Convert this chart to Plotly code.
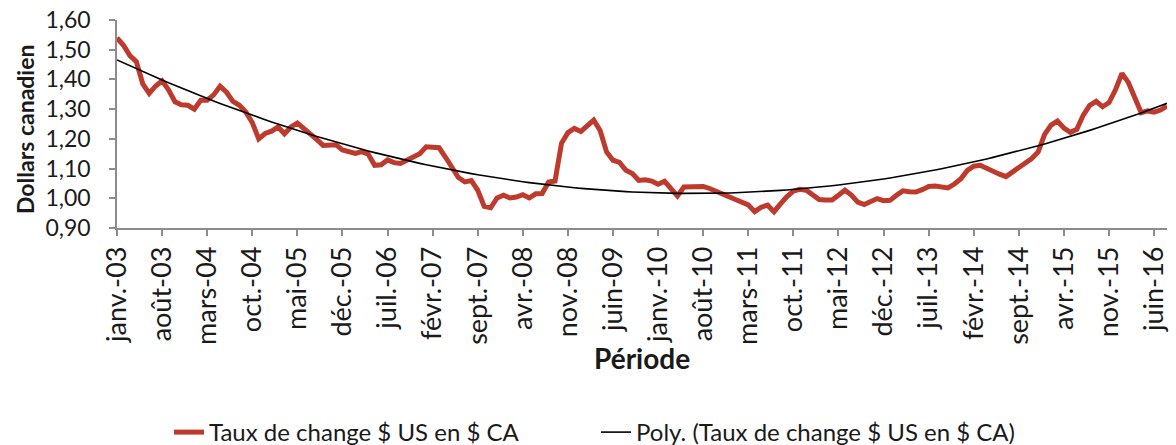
import numpy as np
import plotly.graph_objects as go

# Monthly USD->CAD exchange rate, janv. 2003 .. août 2016
rates_2003 = [1.540, 1.515, 1.480, 1.460, 1.385, 1.353, 1.378, 1.395, 1.365, 1.325, 1.315, 1.313]
rates_2004 = [1.300, 1.330, 1.330, 1.348, 1.377, 1.357, 1.326, 1.313, 1.290, 1.255, 1.200, 1.218]
rates_2005 = [1.226, 1.240, 1.217, 1.240, 1.253, 1.236, 1.220, 1.198, 1.178, 1.178, 1.180, 1.163]
rates_2006 = [1.156, 1.151, 1.157, 1.148, 1.111, 1.113, 1.129, 1.120, 1.117, 1.127, 1.136, 1.150]
rates_2007 = [1.173, 1.172, 1.170, 1.138, 1.100, 1.070, 1.055, 1.060, 1.027, 0.973, 0.968, 1.001]
rates_2008 = [1.010, 1.001, 1.004, 1.012, 1.001, 1.015, 1.016, 1.055, 1.058, 1.185, 1.221, 1.235]
rates_2009 = [1.225, 1.242, 1.263, 1.228, 1.156, 1.128, 1.121, 1.094, 1.083, 1.060, 1.062, 1.058]
rates_2010 = [1.047, 1.057, 1.030, 1.008, 1.038, 1.040, 1.041, 1.040, 1.033, 1.025, 1.013, 1.005]
rates_2011 = [0.996, 0.988, 0.978, 0.955, 0.970, 0.977, 0.955, 0.981, 1.006, 1.024, 1.030, 1.027]
rates_2012 = [1.011, 0.996, 0.994, 0.994, 1.010, 1.027, 1.011, 0.987, 0.979, 0.990, 0.999, 0.992]
rates_2013 = [0.993, 1.010, 1.025, 1.022, 1.021, 1.029, 1.040, 1.041, 1.037, 1.035, 1.048, 1.066]
rates_2014 = [1.094, 1.108, 1.111, 1.100, 1.090, 1.081, 1.073, 1.089, 1.100, 1.118, 1.134, 1.156]
rates_2015 = [1.215, 1.246, 1.260, 1.236, 1.222, 1.232, 1.280, 1.313, 1.326, 1.308, 1.322, 1.365]
rates_2016 = [1.420, 1.390, 1.336, 1.288, 1.294, 1.290, 1.297, 1.310]

month_names = ["janv.", "févr.", "mars", "avr.", "mai", "juin",
               "juil.", "août", "sept.", "oct.", "nov.", "déc."]
start_year = 2003
tick_step = 7  # one label every 7 months
y_ticks = [0.90, 1.00, 1.10, 1.20, 1.30, 1.40, 1.50, 1.60]

series_name = "Taux de change $ US en $ CA"
trend_name = "Poly. (Taux de change $ US en $ CA)"
y_title = "Dollars canadien"
x_title = "Période"

rates = (rates_2003 + rates_2004 + rates_2005 + rates_2006 + rates_2007 +
         rates_2008 + rates_2009 + rates_2010 + rates_2011 + rates_2012 +
         rates_2013 + rates_2014 + rates_2015 + rates_2016)
idx = np.arange(len(rates))
labels = [f"{month_names[i % 12]}-{(start_year + i // 12) % 100:02d}" for i in idx]
tickvals = list(idx[::tick_step])
ticktext = [labels[i] for i in tickvals]

# Excel-style polynomial (order 2) trendline
coef = np.polyfit(idx, rates, 2)
trend = np.polyval(coef, idx)

FONT = "Lato"
TXT = "#1a1a1a"
AX = "#8c8c8c"

W, H = 1176, 445
ML, MT, MR = 117, 20, 9
PLOT_H = 208
MB = H - MT - PLOT_H

fig = go.Figure()
fig.add_trace(go.Scatter(x=idx, y=rates, mode="lines", name=series_name,
                         line=dict(color="#BE3A2C", width=5),
                         customdata=labels, hovertemplate="%{customdata}: %{y:.3f}<extra></extra>"))
fig.add_trace(go.Scatter(x=idx, y=trend, mode="lines", name=trend_name,
                         line=dict(color="#000000", width=1.6), hoverinfo="skip"))

fig.update_layout(
    width=W, height=H,
    margin=dict(l=ML, r=MR, t=MT, b=MB, autoexpand=False),
    paper_bgcolor="white", plot_bgcolor="white",
    separators=", ",
    font=dict(family=FONT, size=22, color=TXT),
    showlegend=True,
    legend=dict(orientation="h", xref="container", x=169 / W, xanchor="left",
                yref="container", y=1 - 410 / H, yanchor="top",
                font=dict(family=FONT, size=24, color=TXT),
                entrywidth=382, traceorder="normal"),
    annotations=[
        dict(text=f"<b>{x_title}</b>", xref="paper", yref="paper",
             x=0.5, y=0, xanchor="center", yanchor="middle",
             yshift=-130, showarrow=False,
             font=dict(family=FONT, size=28, color=TXT)),
        dict(text=f"<b>{y_title}</b>", xref="paper", yref="paper",
             x=0, y=0.5, xanchor="center", yanchor="middle", textangle=-90,
             xshift=-92, yshift=-6, showarrow=False,
             font=dict(family=FONT, size=23, color=TXT)),
    ],
)
fig.update_xaxes(
    automargin=False, ticklabeloverflow="allow",
    range=[0, len(rates) - 1], tickmode="array", tickvals=tickvals, ticktext=ticktext,
    tickangle=-90, ticks="outside", ticklen=6, tickwidth=1.5, tickcolor=AX,
    showline=True, linecolor=AX, linewidth=1.5, showgrid=False, zeroline=False,
    tickfont=dict(family=FONT, size=27, color=TXT),
)
fig.update_yaxes(
    automargin=False, ticklabeloverflow="allow",
    range=[0.9, 1.6], tickmode="array", tickvals=y_ticks, tickformat=".2f",
    ticks="outside", ticklen=6, tickwidth=1.5, tickcolor=AX, ticklabelstandoff=14,
    showline=True, linecolor=AX, linewidth=1.5, showgrid=False, zeroline=False,
    tickfont=dict(family=FONT, size=23, color=TXT),
)

fig.write_html("out.html", config={"displayModeBar": False},
               post_script="document.body.style.margin='0';")
